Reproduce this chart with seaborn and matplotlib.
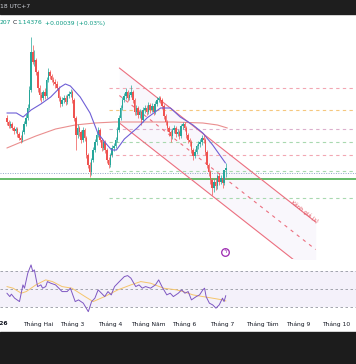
import numpy as np
import pandas as pd
import seaborn as sns
import matplotlib.pyplot as plt
from matplotlib.patches import Rectangle

# daily candles, 7 Jan 2026 -> 2 Jul 2026 (open = previous close)
first_open = 1.1538
closes = [1.1530, 1.1522, 1.1526, 1.1518, 1.1512, 1.1516, 1.1506, 1.1498, 1.1494, 1.1510,
          1.1526, 1.1538, 1.1558, 1.1594, 1.1670, 1.1650, 1.1654, 1.1630, 1.1598, 1.1584,
          1.1578, 1.1590, 1.1582, 1.1614, 1.1630, 1.1622, 1.1614, 1.1610, 1.1606, 1.1598,
          1.1578, 1.1566, 1.1574, 1.1578, 1.1570, 1.1582, 1.1586, 1.1590, 1.1574, 1.1538,
          1.1504, 1.1518, 1.1510, 1.1494, 1.1514, 1.1498, 1.1464, 1.1444, 1.1430, 1.1454,
          1.1474, 1.1490, 1.1504, 1.1514, 1.1494, 1.1478, 1.1490, 1.1474, 1.1454, 1.1444,
          1.1464, 1.1478, 1.1482, 1.1494, 1.1514, 1.1538, 1.1558, 1.1574, 1.1582, 1.1590,
          1.1578, 1.1584, 1.1590, 1.1574, 1.1550, 1.1558, 1.1544, 1.1550, 1.1534, 1.1554,
          1.1558, 1.1550, 1.1564, 1.1554, 1.1562, 1.1550, 1.1566, 1.1574, 1.1578, 1.1574,
          1.1562, 1.1542, 1.1530, 1.1518, 1.1510, 1.1502, 1.1514, 1.1518, 1.1506, 1.1510,
          1.1502, 1.1522, 1.1526, 1.1518, 1.1504, 1.1494, 1.1490, 1.1474, 1.1462, 1.1470,
          1.1482, 1.1486, 1.1490, 1.1498, 1.1494, 1.1470, 1.1444, 1.1430, 1.1414, 1.1398,
          1.1410, 1.1402, 1.1422, 1.1410, 1.1418, 1.1408, 1.14337, 1.14376]
highs = [1.1544, 1.1534, 1.1532, 1.1530, 1.1522, 1.1520, 1.1520, 1.1510, 1.1504, 1.1514,
         1.1532, 1.1546, 1.1566, 1.1602, 1.1700, 1.1684, 1.1674, 1.1658, 1.1634, 1.1604,
         1.1590, 1.1594, 1.1598, 1.1620, 1.1638, 1.1634, 1.1626, 1.1620, 1.1616, 1.1612,
         1.1602, 1.1582, 1.1580, 1.1584, 1.1584, 1.1586, 1.1592, 1.1596, 1.1594, 1.1578,
         1.1542, 1.1526, 1.1522, 1.1514, 1.1520, 1.1518, 1.1502, 1.1468, 1.1450, 1.1458,
         1.1480, 1.1496, 1.1510, 1.1520, 1.1518, 1.1498, 1.1494, 1.1494, 1.1478, 1.1460,
         1.1468, 1.1484, 1.1488, 1.1500, 1.1520, 1.1544, 1.1564, 1.1580, 1.1588, 1.1598,
         1.1594, 1.1590, 1.1604, 1.1594, 1.1578, 1.1564, 1.1562, 1.1556, 1.1554, 1.1560,
         1.1564, 1.1564, 1.1570, 1.1568, 1.1568, 1.1566, 1.1572, 1.1580, 1.1582, 1.1582,
         1.1578, 1.1566, 1.1546, 1.1534, 1.1522, 1.1514, 1.1518, 1.1524, 1.1522, 1.1516,
         1.1514, 1.1526, 1.1530, 1.1530, 1.1522, 1.1508, 1.1498, 1.1494, 1.1478, 1.1476,
         1.1486, 1.1492, 1.1496, 1.1504, 1.1506, 1.1498, 1.1474, 1.1448, 1.1434, 1.1418,
         1.1416, 1.1418, 1.1426, 1.1428, 1.1424, 1.1424, 1.1434, 1.1448]
lows = [1.1524, 1.1518, 1.1518, 1.1514, 1.1506, 1.1508, 1.1500, 1.1494, 1.1488, 1.1490,
        1.1506, 1.1522, 1.1534, 1.1554, 1.1590, 1.1646, 1.1642, 1.1624, 1.1590, 1.1574,
        1.1570, 1.1574, 1.1576, 1.1578, 1.1610, 1.1616, 1.1610, 1.1604, 1.1598, 1.1594,
        1.1572, 1.1560, 1.1562, 1.1568, 1.1564, 1.1566, 1.1578, 1.1580, 1.1568, 1.1532,
        1.1474, 1.1498, 1.1502, 1.1488, 1.1490, 1.1492, 1.1458, 1.1438, 1.1420, 1.1424,
        1.1450, 1.1470, 1.1484, 1.1500, 1.1490, 1.1472, 1.1474, 1.1468, 1.1448, 1.1438,
        1.1440, 1.1460, 1.1472, 1.1478, 1.1490, 1.1510, 1.1534, 1.1554, 1.1570, 1.1576,
        1.1572, 1.1574, 1.1580, 1.1568, 1.1544, 1.1544, 1.1538, 1.1538, 1.1524, 1.1530,
        1.1548, 1.1544, 1.1546, 1.1548, 1.1550, 1.1544, 1.1546, 1.1562, 1.1570, 1.1568,
        1.1556, 1.1536, 1.1524, 1.1512, 1.1502, 1.1490, 1.1496, 1.1508, 1.1500, 1.1502,
        1.1496, 1.1498, 1.1516, 1.1512, 1.1498, 1.1488, 1.1482, 1.1468, 1.1454, 1.1458,
        1.1466, 1.1476, 1.1480, 1.1484, 1.1488, 1.1464, 1.1438, 1.1422, 1.1406, 1.1384,
        1.1390, 1.1394, 1.1396, 1.1404, 1.1406, 1.1398, 1.1404, 1.14207]

# moving averages (bar index, price)
ma_fast_x = [0, 5.5, 9.4, 14, 19.7, 25.4, 31.1, 33.9, 36.8, 42.5, 48.2, 52.7, 56.7, 60.7,
             63.5, 68.1, 75.5, 81.2, 89.1, 94.8, 100.5, 107.9, 113.6, 119.3, 126.7]
ma_fast_y = [1.1548, 1.1548, 1.1540, 1.1554, 1.1566, 1.1580, 1.1600, 1.1606, 1.1602, 1.1580,
             1.1548, 1.1508, 1.1490, 1.1474, 1.1474, 1.1496, 1.1518, 1.1538, 1.1558, 1.1558,
             1.1540, 1.1524, 1.1508, 1.1484, 1.1448]
ma_slow_x = [0, 8.3, 16.8, 28.2, 39.6, 51, 62.4, 79.5, 96.5, 113.6, 122.1, 127.8]
ma_slow_y = [1.1478, 1.1490, 1.1502, 1.1516, 1.1524, 1.1528, 1.1530, 1.1530, 1.1530,
             1.1528, 1.1524, 1.1518]

# drawn price levels
level_prices = [1.1599, 1.1554, 1.1517, 1.1489, 1.1464, 1.1432, 1.1379]
level_colors = ["#f2a7b3", "#f5c77e", "#dcb0cc", "#a9d9b0", "#f2a7b3", "#a9d9b0", "#a9d9b0"]
level_start = 59
last_price_line = 1.1427
support_line = 1.1416

# descending channel (bar index, price)
chan_x = [65.2, 179.0]
chan_upper = [1.1638, 1.1330]
chan_mid = [1.1583, 1.1275]
chan_lower = [1.1528, 1.1220]

# RSI and its moving average
rsi_x = [0, 1.7, 2.6, 4.5, 7.3, 9.3, 10.2, 12.1, 14, 15, 15.9, 17.8, 19.7, 20.7, 22.5, 23.5,
         25.4, 28.2, 30.1, 32, 34.9, 36.8, 39.6, 41.5, 44.3, 47.2, 49.1, 51, 52.9, 54.8,
         56.7, 58.6, 60.5, 62.4, 65.2, 68.1, 70, 71.9, 74.7, 76.6, 78.5, 80.4, 83.3, 86.1,
         88, 89.9, 92.7, 94.7, 96.5, 99.4, 101.3, 103.2, 105.1, 107, 109.8, 111.7, 113.6,
         114.6, 115.5, 117.4, 119.3, 121.2, 123.1, 125, 125.9, 126.9]
rsi_y = [45.1, 41.3, 44.0, 39.5, 35.7, 54.4, 50.7, 67.5, 76.8, 69.3, 71.2, 52.5, 54.4, 50.7,
         52.5, 58.1, 56.3, 54.4, 50.7, 46.9, 46.9, 50.7, 35.7, 37.6, 33.9, 24.4, 35.7, 39.5,
         48.8, 45.1, 41.3, 46.9, 43.2, 52.5, 58.1, 63.7, 64.8, 61.9, 52.5, 54.4, 50.7, 52.5,
         50.7, 54.4, 60.0, 52.5, 43.2, 45.1, 41.3, 45.1, 48.8, 45.1, 46.9, 37.6, 41.3, 43.2,
         48.8, 50.7, 41.3, 33.9, 32.0, 28.3, 32.0, 39.5, 35.7, 42.4]
rsi_ma_x = [0, 3.6, 8.3, 11.2, 16.8, 22.5, 26.4, 32, 37.7, 45.3, 50, 56.7, 64.3, 71.9, 77.6,
            83.3, 90.8, 98.4, 102.2, 107.9, 113.6, 119.3, 125, 127]
rsi_ma_y = [52.5, 50.7, 45.1, 46.9, 54.4, 60.0, 58.1, 52.5, 50.7, 41.3, 35.7, 41.3, 48.8,
            54.4, 58.1, 56.3, 50.7, 48.8, 46.9, 43.2, 41.3, 39.5, 37.6, 36.4]

month_labels = ["2026", "Tháng Hai", "Tháng 3", "Tháng 4", "Tháng Năm", "Tháng 6",
                "Tháng 7", "Tháng Tám", "Tháng 9", "Tháng 10"]

UP, DOWN = "#26a69a", "#ef5350"

sns.set_theme(style="white")
plt.rcParams["font.family"] = ["DejaVu Sans"]

fig = plt.figure(figsize=(3.56, 3.64), dpi=100)
fig.patch.set_facecolor("white")
H = 364.0

ax = fig.add_axes([0, (H - 259) / H, 1, 245 / H])
rsi_ax = fig.add_axes([0, (H - 318) / H, 1, 59 / H], sharex=ax)

# candles
idx = np.arange(len(closes))
opens = np.array([first_open] + closes[:-1])
c = np.array(closes)
up = c >= opens
cols = np.where(up, UP, DOWN)
ax.vlines(idx, lows, highs, colors=cols, lw=0.5, zorder=3)
ax.bar(idx, np.maximum(np.abs(c - opens), 0.00015), bottom=np.minimum(c, opens),
       width=0.85, color=cols, lw=0, zorder=4)

sns.lineplot(x=ma_slow_x, y=ma_slow_y, ax=ax, color="#e57373", lw=0.8, alpha=0.8,
             estimator=None, sort=False, zorder=2)
sns.lineplot(x=ma_fast_x, y=ma_fast_y, ax=ax, color="#6f5fd6", lw=0.8,
             estimator=None, sort=False, zorder=5)

# levels
for p, col in zip(level_prices, level_colors):
    ax.hlines(p, level_start, 250, colors=col, lw=0.8, linestyles=(0, (3, 3)), zorder=1)
ax.axhline(last_price_line, color="#90a4c8", lw=0.7, ls=(0, (1, 1.5)), zorder=1)
ax.axhline(support_line, color="#4caf50", lw=1.2, zorder=2)

# channel
ax.fill_between(chan_x, chan_upper, chan_lower, color="#7e57c2", alpha=0.045, lw=0, zorder=0)
ax.plot(chan_x, chan_upper, color="#ec6f7f", lw=0.8, zorder=2)
ax.plot(chan_x, chan_lower, color="#ec6f7f", lw=0.8, zorder=2)
ax.plot(chan_x, chan_mid, color="#ec6f7f", lw=0.8, ls=(0, (3, 4)), zorder=2)

ax.set_xlim(-0.23, 202.4)
ax.set_ylim(1.1256, 1.1746)
ax.set_axis_off()

# label along the channel top
p0 = ax.transData.transform((chan_x[0], chan_upper[0]))
p1 = ax.transData.transform((chan_x[1], chan_upper[1]))
ang = np.degrees(np.arctan2(p1[1] - p0[1], p1[0] - p0[0]))
ax.text(172.5, 1.1350, "Kênh giá (s)", color="#e0525f", fontsize=4.0,
        rotation=ang, rotation_mode="anchor", ha="center", va="center")

# alert icon
ax.scatter([126.7], [1.1270], s=30, facecolor="white", edgecolor="#9c27b0", lw=0.9, zorder=6)
ax.text(126.7, 1.1270, "ϟ", color="#9c27b0", fontsize=4.2, ha="center", va="center", zorder=7)

# RSI pane
rsi_ax.axhspan(30, 70, color="#7e57c2", alpha=0.08, lw=0)
for lv in (70, 50, 30):
    rsi_ax.axhline(lv, color="#9598a1", lw=0.6, ls=(0, (3, 3)))
sns.lineplot(x=rsi_ma_x, y=rsi_ma_y, ax=rsi_ax, color="#f5c56b", lw=0.7,
             estimator=None, sort=False)
sns.lineplot(x=rsi_x, y=rsi_y, ax=rsi_ax, color="#7e57c2", lw=0.7,
             estimator=None, sort=False)
rsi_ax.set_ylim(17.3, 83.4)
rsi_ax.set_xlim(-0.23, 202.4)

full = pd.bdate_range("2026-01-01", "2026-10-31")
offset = full.get_loc(pd.Timestamp("2026-01-07"))
month_start = [i - offset for i in range(len(full)) if i == 0 or full[i].month != full[i - 1].month]
rsi_ax.set_xticks(month_start)
rsi_ax.set_xticklabels(month_labels, fontsize=4.3, color="#131722")
rsi_ax.get_xticklabels()[0].set_fontweight("bold")
rsi_ax.tick_params(axis="x", length=0, pad=2.5)
rsi_ax.set_yticks([])
rsi_ax.set_xlabel("")
rsi_ax.set_ylabel("")
for s in rsi_ax.spines.values():
    s.set_visible(False)
rsi_ax.set_facecolor("none")

# dark bars and header
fig.patches.append(Rectangle((0, (H - 14) / H), 1, 14 / H, transform=fig.transFigure,
                             color="#1e1e1e", zorder=0))
fig.patches.append(Rectangle((0, 0), 1, 32 / H, transform=fig.transFigure,
                             color="#1c1c1c", zorder=0))
fig.text(0.0, 1 - 7 / H, "18 UTC+7", color="#d1d4dc", fontsize=4.3, va="center")
y_head = 1 - 23 / H
fig.text(0.0, y_head, "207", color="#089981", fontsize=4.3, va="center")
fig.text(13 / 356, y_head, "C", color="#131722", fontsize=4.3, va="center")
fig.text(17 / 356, y_head, "1.14376", color="#089981", fontsize=4.3, va="center")
fig.text(45 / 356, y_head, "+0.00039 (+0.03%)", color="#089981", fontsize=4.3, va="center")

fig.savefig("out.png", dpi=100, facecolor="white")
